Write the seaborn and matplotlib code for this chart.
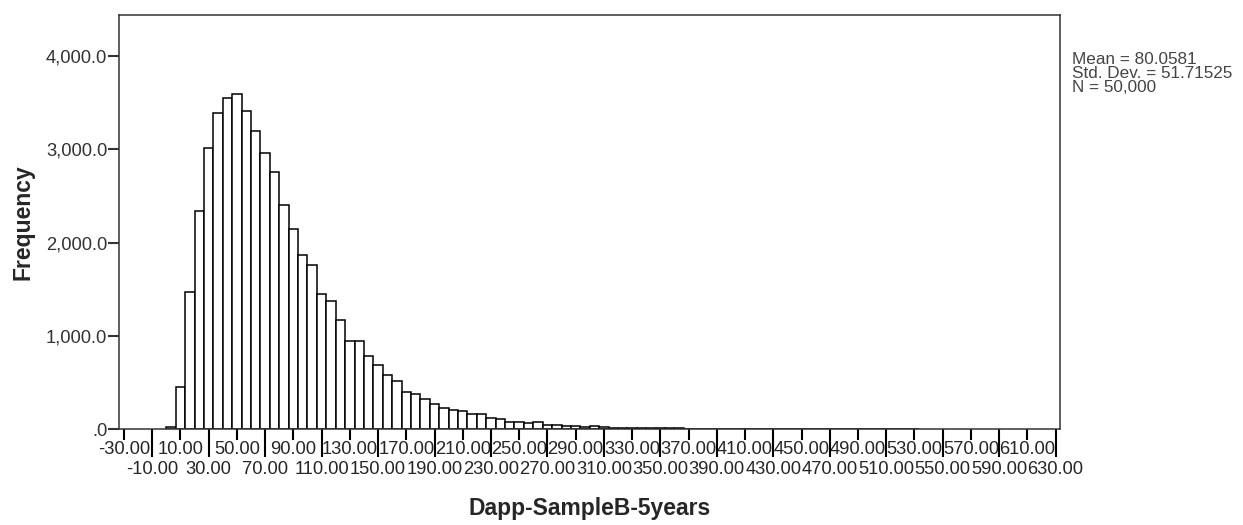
import numpy as np
import pandas as pd
import matplotlib
matplotlib.use("Agg")
import matplotlib.pyplot as plt
import seaborn as sns

# ---- data ----
bin_start = 0.0
bin_width = 20.0 / 3.0
counts = [25, 454, 1466, 2341, 3017, 3385, 3550, 3596, 3414, 3196,
          2963, 2752, 2406, 2148, 1862, 1755, 1448, 1369, 1172, 940,
          940, 783, 690, 579, 518, 400, 379, 322, 272, 229,
          204, 197, 157, 161, 114, 104, 79, 79, 68, 75,
          46, 46, 32, 32, 20, 28, 22, 14, 13, 10,
          9, 8, 7, 7, 6, 5, 5, 4, 4, 3,
          3, 3, 2, 2, 2, 2, 2, 1, 1, 1,
          1, 1, 1, 1, 2, 1, 1, 1, 1, 1]
row1_ticks = list(range(-30, 611, 40))
row2_ticks = list(range(-10, 631, 40))
y_ticks = [0, 1000, 2000, 3000, 4000]
stats_lines = ["Mean = 80.0581", "Std. Dev. = 51.71525", "N = 50,000"]
x_label = "Dapp-SampleB-5years"
y_label = "Frequency"

edges = [float(e) for e in bin_start + bin_width * np.arange(len(counts) + 1)]
centers = [(a + b) / 2 for a, b in zip(edges[:-1], edges[1:])]
df = pd.DataFrame({"value": centers, "count": counts})

sns.set_style("white")
plt.rcParams["font.family"] = ["Liberation Sans", "DejaVu Sans"]

W, H = 1243, 525
fig = plt.figure(figsize=(W / 100, H / 100), dpi=100)
L, R, B, T = 119, 1060, 429, 15
ax = fig.add_axes([L / W, 1 - B / H, (R - L) / W, (B - T) / H])

sns.histplot(data=df, x="value", weights="count", bins=edges, ax=ax,
             color="white", edgecolor="black", linewidth=1.1, alpha=1)

ax.set_xlim(-33.5, 633.1)
ax.set_ylim(0, 4440)

for s in ax.spines.values():
    s.set_visible(True)
    s.set_color("#333333")
    s.set_linewidth(1.1)

ax.set_xticks(row1_ticks)
ax.set_xticklabels([f"{v:.2f}" for v in row1_ticks])
ax.set_xticks(row2_ticks, minor=True)
ax.set_xticklabels([f"{v:.2f}" for v in row2_ticks], minor=True)
ax.tick_params(axis="x", which="major", direction="out", length=7.7, width=1.5,
               color="black", labelsize=13.2, pad=1.3, bottom=True)
ax.tick_params(axis="x", which="minor", direction="out", length=20.3, width=1.5,
               color="black", labelsize=13.2, pad=3.0, bottom=True)

ax.set_yticks(y_ticks)
ax.set_yticklabels([".0" if v == 0 else f"{v:,.1f}" for v in y_ticks])
ax.tick_params(axis="y", direction="out", length=8, width=1.5, color="#333333",
               labelsize=13.2, pad=0.5, left=True, labelcolor="#333333")

ax.set_xlabel(x_label, fontsize=16.5, fontweight="bold")
ax.xaxis.set_label_coords(0.5, -0.2077)
ax.xaxis.label.set_va("baseline")
ax.set_ylabel(y_label, fontsize=16.5, fontweight="bold")
ax.yaxis.set_label_coords(-0.102, 0.5)
ax.yaxis.label.set_va("center")

for i, line in enumerate(stats_lines):
    fig.text(1072 / W, 1 - (64 + 14.2 * i) / H, line, fontsize=12.3,
             color="#444444", ha="left", va="baseline")

fig.savefig("out.png", dpi=100)
